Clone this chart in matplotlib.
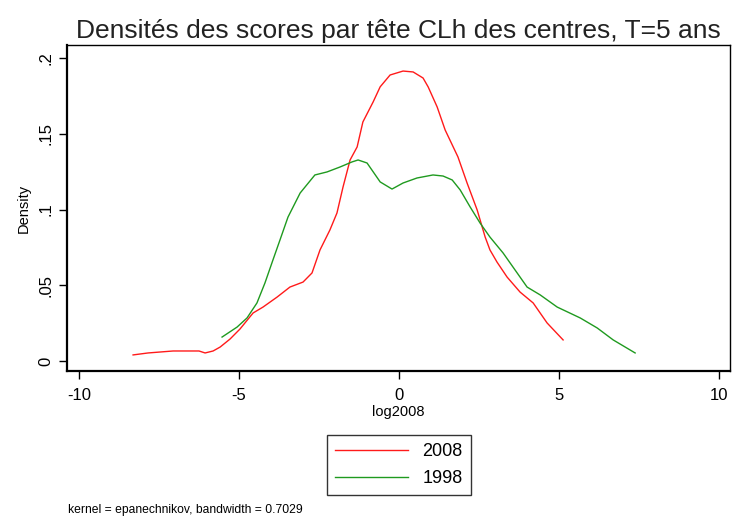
"""Kernel density of log scores per head (CLh), 2008 vs 1998, Stata-like look."""

import matplotlib

matplotlib.use("Agg")
import matplotlib.pyplot as plt

plt.rcParams["font.family"] = ["Liberation Sans", "DejaVu Sans"]

# 2008 density curve
x_2008 = [-8.31, -7.84, -7.06, -6.25, -6.06, -5.81, -5.59, -5.28, -4.97, -4.56,
          -4.25, -3.81, -3.41, -3.0, -2.72, -2.47, -2.16, -1.94, -1.75, -1.53,
          -1.31, -1.13, -0.81, -0.59, -0.28, 0.125, 0.44, 0.75, 0.91, 1.19,
          1.44, 1.84, 2.125, 2.44, 2.69, 2.84, 3.06, 3.375, 3.78, 4.19,
          4.625, 5.125]
y_2008 = [0.004, 0.0053, 0.0066, 0.0066, 0.0053, 0.0066, 0.0092, 0.0145, 0.0211, 0.0317,
          0.0356, 0.0422, 0.0488, 0.0521, 0.0581, 0.0733, 0.0865, 0.0977, 0.1149, 0.1327,
          0.1413, 0.1578, 0.171, 0.181, 0.1888, 0.1914, 0.1908, 0.1868, 0.1809, 0.1677,
          0.1525, 0.1347, 0.1175, 0.0997, 0.0818, 0.0733, 0.0653, 0.0554, 0.0455, 0.0383,
          0.0251, 0.0139]

# 1998 density curve
x_1998 = [-5.53, -5.06, -4.75, -4.44, -4.19, -3.94, -3.72, -3.47, -3.09, -2.63,
          -2.25, -1.84, -1.47, -1.28, -1.0, -0.59, -0.22, 0.125, 0.56, 1.06,
          1.375, 1.66, 1.91, 2.22, 2.53, 2.84, 3.25, 3.69, 4.0, 4.41,
          4.94, 5.66, 6.19, 6.69, 7.375]
y_1998 = [0.0158, 0.0224, 0.0284, 0.0383, 0.0515, 0.0667, 0.0799, 0.095, 0.1109, 0.1228,
          0.1248, 0.1281, 0.1314, 0.1327, 0.1307, 0.1182, 0.1135, 0.1175, 0.1208, 0.1228,
          0.1221, 0.1195, 0.1129, 0.1017, 0.0911, 0.0818, 0.0713, 0.0581, 0.0488, 0.0436,
          0.0356, 0.0284, 0.0218, 0.0139, 0.0053]

x_ticks = [-10, -5, 0, 5, 10]
y_ticks = [0, 0.05, 0.1, 0.15, 0.2]
y_ticklabels = ["0", ".05", ".1", ".15", ".2"]

RED = "#ff1a1a"
GREEN = "#1f9a1f"

fig = plt.figure(figsize=(7.32, 5.19), dpi=100)
ax = fig.add_axes([0.0915, 0.2852, 0.9058, 0.6281])

ax.plot(x_2008, y_2008, color=RED, lw=1.0, label="2008")
ax.plot(x_1998, y_1998, color=GREEN, lw=1.0, label="1998")

ax.set_xlim(-10.375, 10.34)
ax.set_ylim(-0.0066, 0.2086)
ax.set_xticks(x_ticks)
ax.set_xticklabels([str(t) for t in x_ticks])
ax.set_yticks(y_ticks)
ax.set_yticklabels(y_ticklabels, rotation=90, va="center")

ax.tick_params(direction="out", length=5.5, width=1.0, labelsize=12, colors="black")
ax.tick_params(axis="x", pad=7)
ax.tick_params(axis="y", pad=4)
for side in ("left", "bottom"):
    ax.spines[side].set_linewidth(1.6)
for side in ("top", "right"):
    ax.spines[side].set_linewidth(1.0)

ax.set_xlabel("log2008", fontsize=10.5, labelpad=1)
ax.set_ylabel("Density", fontsize=10.5, labelpad=6)
ax.set_title("Densités des scores par tête CLh des centres, T=5 ans",
             fontsize=19, pad=5, color="#222222")

leg = fig.legend(loc="center", bbox_to_anchor=(0.545, 0.104), fontsize=13,
                 handlelength=4.0, handletextpad=0.8, labelspacing=0.55,
                 fancybox=False, edgecolor="black", borderpad=0.45)
leg.get_frame().set_linewidth(1.0)

fig.text(0.093, 0.012, "kernel = epanechnikov, bandwidth = 0.7029", fontsize=8.7)

fig.savefig("out.png", dpi=100, facecolor="white")
